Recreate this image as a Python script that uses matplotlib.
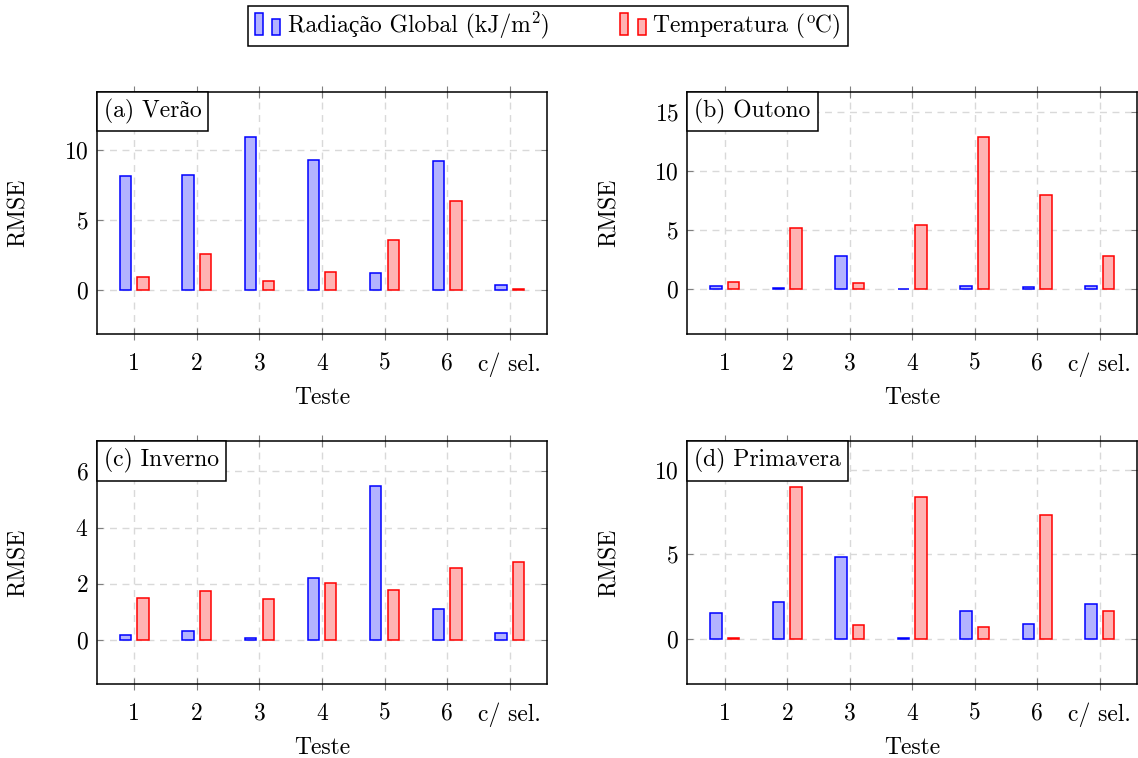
import matplotlib
matplotlib.use("Agg")
import matplotlib.pyplot as plt
import numpy as np
from matplotlib.patches import Rectangle
from matplotlib.legend_handler import HandlerBase
from matplotlib.offsetbox import AnchoredText

# dados
testes = ["1", "2", "3", "4", "5", "6", "c/ sel."]
estacoes = ["(a) Verão", "(b) Outono", "(c) Inverno", "(d) Primavera"]

rad_verao = [8.19, 8.21, 10.93, 9.29, 1.21, 9.26, 0.40]
temp_verao = [0.98, 2.57, 0.67, 1.29, 3.62, 6.40, 0.10]

rad_outono = [0.25, 0.08, 2.79, 0.06, 0.25, 0.17, 0.25]
temp_outono = [0.59, 5.18, 0.51, 5.41, 12.85, 7.94, 2.79]

rad_inverno = [0.18, 0.32, 0.07, 2.21, 5.47, 1.09, 0.24]
temp_inverno = [1.51, 1.73, 1.48, 2.03, 1.78, 2.57, 2.79]

rad_primavera = [1.54, 2.19, 4.82, 0.02, 1.66, 0.89, 2.08]
temp_primavera = [0.06, 9.01, 0.81, 8.38, 0.71, 7.31, 1.66]

# rotulos da legenda: (antes do expoente, expoente, depois)
legenda = [("Radiação Global (kJ/m", "2", ")"), ("Temperatura (", "o", "C)")]

plt.rcParams['font.family'] = ['cmr10', 'Liberation Serif']
plt.rcParams['mathtext.fontset'] = 'cm'
plt.rcParams['axes.formatter.use_mathtext'] = True

AZUL_F, AZUL_E = '#b3b3ff', '#0000ff'
VERM_F, VERM_E = '#ffb3b3', '#ff0000'
FS = 17

W, H = 1138, 758
fig = plt.figure(figsize=(W / 100, H / 100), dpi=100)

# caixas dos eixos em pixels: esquerda, topo, direita, base
caixas = [(96.7, 92, 547.3, 334), (687.3, 92, 1137.3, 334),
          (96.7, 441.3, 547.3, 684), (687.3, 441.3, 1137.3, 684)]
dados = [(rad_verao, temp_verao), (rad_outono, temp_outono),
         (rad_inverno, temp_inverno), (rad_primavera, temp_primavera)]
ylims = [(-3.12, 14.16), (-3.77, 16.68), (-1.56, 7.07), (-2.69, 11.7)]
yticks = [[0, 5, 10], [0, 5, 10, 15], [0, 2, 4, 6], [0, 5, 10]]

x = np.arange(len(testes))
for i, (cx, rows) in enumerate(zip(caixas, dados)):
    l, t, r, b = cx
    ax = fig.add_axes([l / W, 1 - b / H, (r - l) / W, (b - t) / H])
    rad, temp = rows
    ax.bar(x - 0.14, rad, width=0.18, color=AZUL_F, edgecolor=AZUL_E, linewidth=1.1, zorder=3)
    ax.bar(x + 0.14, temp, width=0.18, color=VERM_F, edgecolor=VERM_E, linewidth=1.1, zorder=3)
    ax.set_xlim(-0.6, 6.6)
    ax.set_ylim(*ylims[i])
    ax.set_xticks(x)
    ax.set_xticklabels(testes, fontsize=FS)
    ax.set_yticks(yticks[i])
    ax.tick_params(axis='y', labelsize=FS, direction='in', length=4, color='#808080',
                   right=True, pad=6)
    ax.tick_params(axis='x', direction='inout', length=9, color='#808080', top=True, pad=9)
    ax.grid(True, color='#d9d9d9', linestyle=(0, (5, 4)), linewidth=1.0, zorder=0)
    ax.set_axisbelow(True)
    for s in ax.spines.values():
        s.set_linewidth(1.1)
    ax.set_xlabel("Teste", fontsize=FS, labelpad=7)
    ax.set_ylabel("RMSE", fontsize=FS)
    ax.yaxis.set_label_coords(-0.148, 0.5)
    at = AnchoredText(estacoes[i], loc='upper left', prop=dict(size=FS),
                      frameon=True, borderpad=0, pad=0.3)
    at.patch.set_boxstyle('square', pad=0)
    at.patch.set_linewidth(1.1)
    at.zorder = 5
    ax.add_artist(at)


class BarrasLegenda(HandlerBase):
    def create_artists(self, legend, orig_handle, xdescent, ydescent,
                       width, height, fontsize, trans):
        w = width * 0.32
        r1 = Rectangle((-xdescent, -ydescent), w, height, transform=trans,
                       facecolor=orig_handle.get_facecolor(),
                       edgecolor=orig_handle.get_edgecolor(), linewidth=1.1)
        r2 = Rectangle((-xdescent + width * 0.68, -ydescent), w, height * 0.75,
                       transform=trans, facecolor=orig_handle.get_facecolor(),
                       edgecolor=orig_handle.get_edgecolor(), linewidth=1.1)
        return [r1, r2]


# o cmr10 nao tem os sinais de expoente, entao o expoente vai como texto a parte
rotulos = [a + " \u200a" + c for a, _, c in legenda]
h1 = Rectangle((0, 0), 1, 1, facecolor=AZUL_F, edgecolor=AZUL_E)
h2 = Rectangle((0, 0), 1, 1, facecolor=VERM_F, edgecolor=VERM_E)
leg = fig.legend([h1, h2], rotulos,
                 loc='upper center', bbox_to_anchor=(0.4815, 0.992), ncol=2,
                 fontsize=FS, frameon=True, fancybox=False, edgecolor='black',
                 framealpha=1, handlelength=1.08, handleheight=1.05,
                 handletextpad=0.32, columnspacing=3.0, borderpad=0.3,
                 borderaxespad=0, handler_map={Rectangle: BarrasLegenda()})
leg.get_frame().set_linewidth(1.1)

fig.canvas.draw()
rend = fig.canvas.get_renderer()
for txt, (antes, expo, _) in zip(leg.get_texts(), legenda):
    bb = txt.get_window_extent(rend)
    tmp = fig.text(0, 0, antes, fontsize=FS)
    wa = tmp.get_window_extent(rend).width
    tmp.remove()
    fig.text((bb.x0 + wa + 1.0) / W, (bb.y1 + 2.5) / H, expo, fontsize=FS * 0.7,
             ha='left', va='top', zorder=20)

fig.savefig("out.png", dpi=100)
